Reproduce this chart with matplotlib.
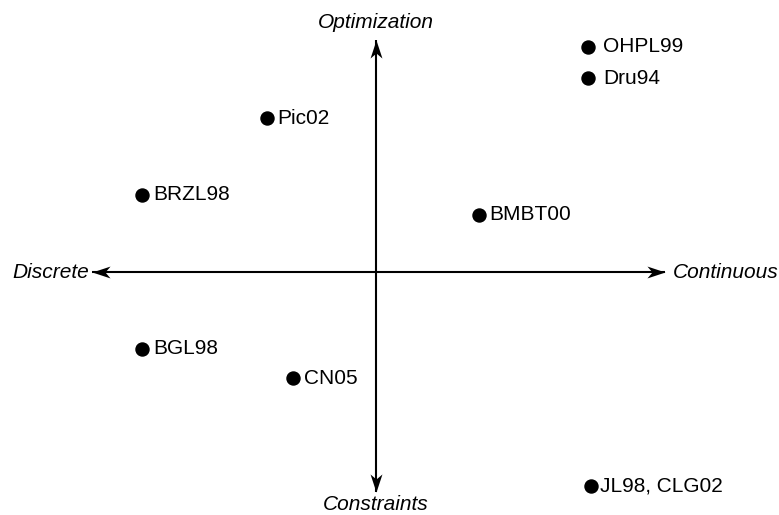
import matplotlib.pyplot as plt
from matplotlib.path import Path
from matplotlib.markers import MarkerStyle
from matplotlib.transforms import Affine2D

plt.rcParams['font.family'] = ['Liberation Sans', 'DejaVu Sans']

# paper positions on the two axes (x: discrete -> continuous, y: constraints -> optimization)
names = ["OHPL99", "Dru94", "Pic02", "BRZL98", "BMBT00", "BGL98", "CN05", "JL98, CLG02"]
xs = [212, 212, -109, -234, 103, -234, -83, 215]
ys = [225, 194, 154, 77, 57, -77, -106, -214]
gaps = [15, 15, 10, 11, 10, 11, 11, 9]

fig = plt.figure(figsize=(7.79, 5.15), dpi=100)
ax = fig.add_axes([0, 0, 1, 1])
ax.set_xlim(-376, 403)
ax.set_ylim(-243, 272)
ax.axis('off')

# concave arrow head, tip at origin, pointing right
head = Path([(0, 0), (-1, 0.33), (-0.72, 0), (-1, -0.33), (0, 0)],
            [Path.MOVETO, Path.LINETO, Path.LINETO, Path.LINETO, Path.CLOSEPOLY])

def arrow(x, y, angle):
    ax.plot([0, x], [0, y], color='black', lw=1.5, solid_capstyle='butt')
    m = MarkerStyle(head, transform=Affine2D().rotate_deg(angle))
    ax.plot([x], [y], marker=m, markersize=26, color='black', markeredgewidth=0)

arrow(289, 0, 0)
arrow(-284, 0, 180)
arrow(0, 232, 90)
arrow(0, -220, 270)

ax.text(-287, 0, "Discrete", style='italic', fontsize=15, ha='right', va='center')
ax.text(297, 0, "Continuous", style='italic', fontsize=15, ha='left', va='center')
ax.text(0, 250, "Optimization", style='italic', fontsize=15, ha='center', va='center')
ax.text(0, -232, "Constraints", style='italic', fontsize=15, ha='center', va='center')

ax.scatter(xs, ys, s=88, color='black', zorder=3)
for n, x, y, g in zip(names, xs, ys, gaps):
    ax.text(x + g, y, n, fontsize=15, ha='left', va='center')

fig.savefig("out.png", dpi=100)
